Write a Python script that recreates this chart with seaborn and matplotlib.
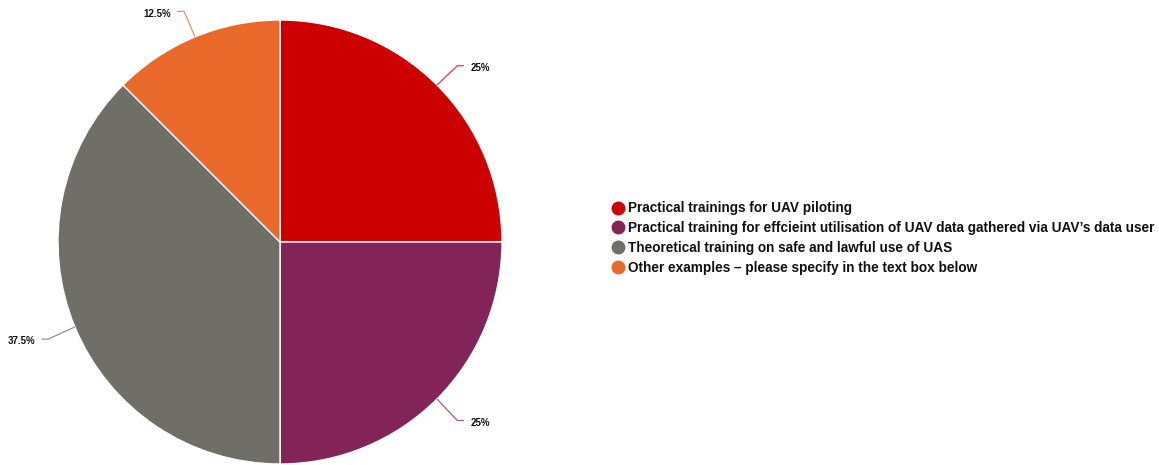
import numpy as np
import matplotlib
matplotlib.use("Agg")
import matplotlib.pyplot as plt
import seaborn as sns
from matplotlib.lines import Line2D

categories = [
    "Practical trainings for UAV piloting",
    "Practical training for effcieint utilisation of UAV data gathered via UAV\u2019s data user",
    "Theoretical training on safe and lawful use of UAS",
    "Other examples \u2013 please specify in the text box below",
]
shares = [25.0, 25.0, 37.5, 12.5]
labels = ["25%", "25%", "37.5%", "12.5%"]
colors = ["#CC0000", "#822457", "#6F6E67", "#E8692A"]

sns.set_theme(style="white")
plt.rcParams["font.family"] = ["Liberation Sans", "DejaVu Sans"]

fig = plt.figure(figsize=(11.59, 4.65), dpi=100)
W, H = 1159, 465
cx, cy, r = 280, 242, 222
ax = fig.add_axes([(cx - r) / W, (H - cy - r) / H, 2 * r / W, 2 * r / H])

wedges, _ = ax.pie(
    shares,
    colors=sns.color_palette(colors),
    startangle=90,
    counterclock=False,
    radius=1.0,
    wedgeprops=dict(edgecolor="white", linewidth=1.0),
)
ax.set_xlim(-1, 1)
ax.set_ylim(-1, 1)
ax.set_aspect("equal")
ax.axis("off")

# leader lines and value labels
for w, lab, col in zip(wedges, labels, colors):
    mid = np.deg2rad((w.theta1 + w.theta2) / 2)
    x0, y0 = np.cos(mid), np.sin(mid)
    xe, ye = 1.13 * x0, 1.13 * y0 - 0.005
    side = 1 if x0 >= 0 else -1
    xh = xe + side * 0.03
    ax.plot([x0, xe, xh], [y0, ye, ye], color=col, lw=0.9, alpha=0.75,
            clip_on=False, solid_capstyle="butt")
    ax.text(xh + side * 0.03, ye - 0.01, lab, ha="left" if side > 0 else "right",
            va="center", fontsize=7, fontweight="bold", color="#111111")

handles = [Line2D([0], [0], marker="o", linestyle="", markersize=9,
                  markerfacecolor=c, markeredgecolor=c) for c in colors]
fig.legend(handles, categories, loc="center left",
           bbox_to_anchor=(599 / W, (H - 238) / H), frameon=False,
           prop=dict(size=9.85, weight="bold"), handletextpad=0.25,
           labelspacing=0.42, handlelength=1.0, labelcolor="#111111")

fig.savefig("out.png", dpi=100, facecolor="white")
